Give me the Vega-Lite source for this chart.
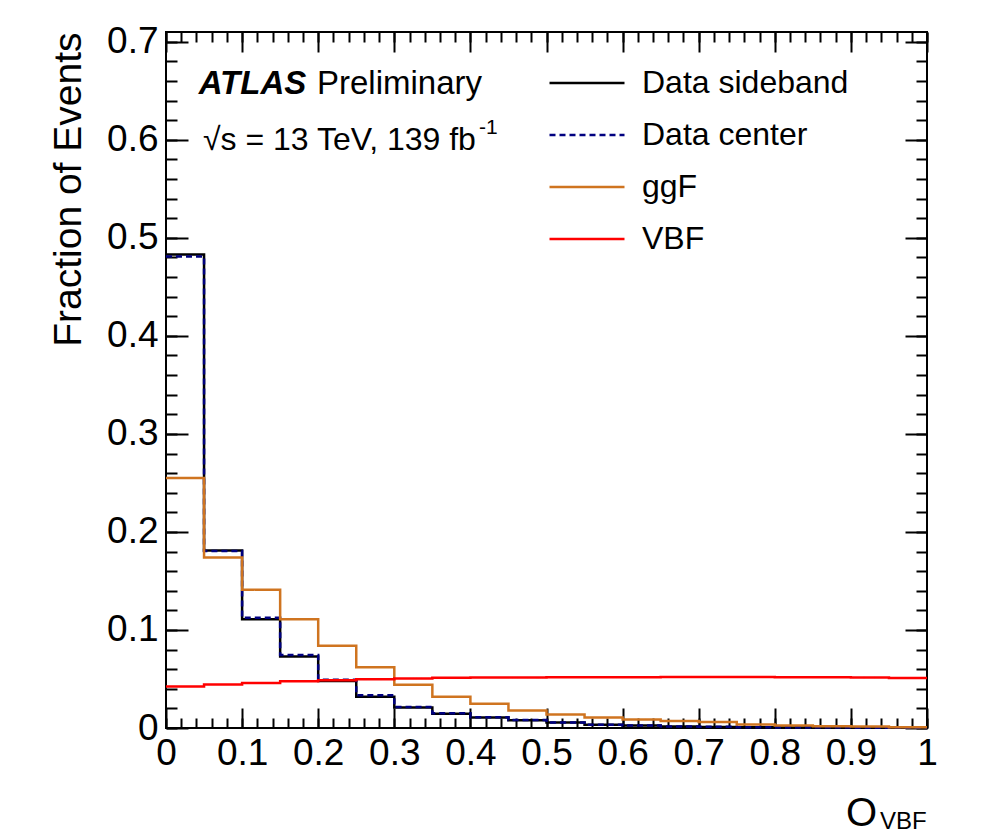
{
  "$schema": "https://vega.github.io/schema/vega-lite/v6.json",
  "width": 761,
  "height": 696,
  "autosize": {"type": "none"},
  "padding": {"left": 166, "top": 32, "right": 71, "bottom": 109},
  "background": "white",
  "config": {
    "view": {"stroke": "black", "strokeWidth": 2},
    "font": "Liberation Sans",
    "axis": {
      "grid": false, "domain": false, "tickColor": "black", "tickWidth": 2, "tickCap": "butt",
      "labelColor": "black", "labelFont": "Liberation Sans", "labelFontSize": 37,
      "titleFont": "Liberation Sans", "titleColor": "black", "titleFontWeight": "normal",
      "labelFlush": false, "labelOverlap": false, "labelBound": false, "zindex": 1
    }
  },
  "resolve": {"axis": {"x": "independent", "y": "independent"}},
  "datasets": {
    "hist": [
      {"sample": "Data sideband", "edge": 0, "frac": 0.483},
      {"sample": "Data sideband", "edge": 0.05, "frac": 0.181},
      {"sample": "Data sideband", "edge": 0.1, "frac": 0.111},
      {"sample": "Data sideband", "edge": 0.15, "frac": 0.073},
      {"sample": "Data sideband", "edge": 0.2, "frac": 0.048},
      {"sample": "Data sideband", "edge": 0.25, "frac": 0.032},
      {"sample": "Data sideband", "edge": 0.3, "frac": 0.021},
      {"sample": "Data sideband", "edge": 0.35, "frac": 0.0145},
      {"sample": "Data sideband", "edge": 0.4, "frac": 0.0107},
      {"sample": "Data sideband", "edge": 0.45, "frac": 0.008},
      {"sample": "Data sideband", "edge": 0.5, "frac": 0.0056},
      {"sample": "Data sideband", "edge": 0.55, "frac": 0.0033},
      {"sample": "Data sideband", "edge": 0.6, "frac": 0.0026},
      {"sample": "Data sideband", "edge": 0.65, "frac": 0.0015},
      {"sample": "Data sideband", "edge": 0.7, "frac": 0.0011},
      {"sample": "Data sideband", "edge": 0.75, "frac": 0.0008},
      {"sample": "Data sideband", "edge": 0.8, "frac": 0.0006},
      {"sample": "Data sideband", "edge": 0.85, "frac": 0.0004},
      {"sample": "Data sideband", "edge": 0.9, "frac": 0.0003},
      {"sample": "Data sideband", "edge": 0.95, "frac": 0.0002},
      {"sample": "Data sideband", "edge": 1, "frac": 0.0002},
      {"sample": "Data center", "edge": 0, "frac": 0.481},
      {"sample": "Data center", "edge": 0.05, "frac": 0.1805},
      {"sample": "Data center", "edge": 0.1, "frac": 0.1125},
      {"sample": "Data center", "edge": 0.15, "frac": 0.0745},
      {"sample": "Data center", "edge": 0.2, "frac": 0.0493},
      {"sample": "Data center", "edge": 0.25, "frac": 0.0335},
      {"sample": "Data center", "edge": 0.3, "frac": 0.0215},
      {"sample": "Data center", "edge": 0.35, "frac": 0.015},
      {"sample": "Data center", "edge": 0.4, "frac": 0.011},
      {"sample": "Data center", "edge": 0.45, "frac": 0.0082},
      {"sample": "Data center", "edge": 0.5, "frac": 0.0057},
      {"sample": "Data center", "edge": 0.55, "frac": 0.0034},
      {"sample": "Data center", "edge": 0.6, "frac": 0.0026},
      {"sample": "Data center", "edge": 0.65, "frac": 0.0016},
      {"sample": "Data center", "edge": 0.7, "frac": 0.0012},
      {"sample": "Data center", "edge": 0.75, "frac": 0.0008},
      {"sample": "Data center", "edge": 0.8, "frac": 0.0005},
      {"sample": "Data center", "edge": 0.85, "frac": 0.0004},
      {"sample": "Data center", "edge": 0.9, "frac": 0.0003},
      {"sample": "Data center", "edge": 0.95, "frac": 0.0002},
      {"sample": "Data center", "edge": 1, "frac": 0.0002},
      {"sample": "ggF", "edge": 0, "frac": 0.255},
      {"sample": "ggF", "edge": 0.05, "frac": 0.174},
      {"sample": "ggF", "edge": 0.1, "frac": 0.141},
      {"sample": "ggF", "edge": 0.15, "frac": 0.111},
      {"sample": "ggF", "edge": 0.2, "frac": 0.084},
      {"sample": "ggF", "edge": 0.25, "frac": 0.062},
      {"sample": "ggF", "edge": 0.3, "frac": 0.044},
      {"sample": "ggF", "edge": 0.35, "frac": 0.032},
      {"sample": "ggF", "edge": 0.4, "frac": 0.0247},
      {"sample": "ggF", "edge": 0.45, "frac": 0.0179},
      {"sample": "ggF", "edge": 0.5, "frac": 0.0138},
      {"sample": "ggF", "edge": 0.55, "frac": 0.0107},
      {"sample": "ggF", "edge": 0.6, "frac": 0.0087},
      {"sample": "ggF", "edge": 0.65, "frac": 0.0072},
      {"sample": "ggF", "edge": 0.7, "frac": 0.006},
      {"sample": "ggF", "edge": 0.75, "frac": 0.0036},
      {"sample": "ggF", "edge": 0.8, "frac": 0.0026},
      {"sample": "ggF", "edge": 0.85, "frac": 0.0019},
      {"sample": "ggF", "edge": 0.9, "frac": 0.0015},
      {"sample": "ggF", "edge": 0.95, "frac": 0.0008},
      {"sample": "ggF", "edge": 1, "frac": 0.0008},
      {"sample": "VBF", "edge": 0, "frac": 0.0423},
      {"sample": "VBF", "edge": 0.05, "frac": 0.0444},
      {"sample": "VBF", "edge": 0.1, "frac": 0.046},
      {"sample": "VBF", "edge": 0.15, "frac": 0.0478},
      {"sample": "VBF", "edge": 0.2, "frac": 0.0488},
      {"sample": "VBF", "edge": 0.25, "frac": 0.0498},
      {"sample": "VBF", "edge": 0.3, "frac": 0.0505},
      {"sample": "VBF", "edge": 0.35, "frac": 0.0512},
      {"sample": "VBF", "edge": 0.4, "frac": 0.0514},
      {"sample": "VBF", "edge": 0.45, "frac": 0.0516},
      {"sample": "VBF", "edge": 0.5, "frac": 0.0517},
      {"sample": "VBF", "edge": 0.55, "frac": 0.0518},
      {"sample": "VBF", "edge": 0.6, "frac": 0.0518},
      {"sample": "VBF", "edge": 0.65, "frac": 0.0519},
      {"sample": "VBF", "edge": 0.7, "frac": 0.0519},
      {"sample": "VBF", "edge": 0.75, "frac": 0.0519},
      {"sample": "VBF", "edge": 0.8, "frac": 0.0518},
      {"sample": "VBF", "edge": 0.85, "frac": 0.0517},
      {"sample": "VBF", "edge": 0.9, "frac": 0.0515},
      {"sample": "VBF", "edge": 0.95, "frac": 0.051},
      {"sample": "VBF", "edge": 1, "frac": 0.051}
    ]
  },
  "layer": [
    {
      "data": {"name": "hist"},
      "mark": {"type": "line", "interpolate": "step-after", "strokeWidth": 2.5},
      "encoding": {
        "x": {"field": "edge", "type": "quantitative", "scale": {"domain": [0, 1], "nice": false, "zero": false},
          "axis": {"orient": "bottom", "values": [0, 0.1, 0.2, 0.3, 0.4, 0.5, 0.6, 0.7, 0.8, 0.9, 1], "format": "~g", "ticks": false, "labels": true, "labelPadding": 7, "title": null}},
        "y": {"field": "frac", "type": "quantitative", "scale": {"domain": [0, 0.71], "nice": false, "zero": false},
          "axis": {"orient": "left", "values": [0, 0.1, 0.2, 0.3, 0.4, 0.5, 0.6, 0.7], "format": "~g", "ticks": false, "labels": true, "labelPadding": 8,
            "title": "Fraction of Events", "titleFontSize": 39, "titleAnchor": "end", "titlePadding": 18}},
        "color": {"field": "sample", "type": "nominal",
          "scale": {"domain": ["Data sideband", "Data center", "ggF", "VBF"], "range": ["#000000", "#000080", "#cf7420", "#ff0000"]},
          "legend": {"orient": "none", "legendX": 405, "legendY": 35, "title": null, "padding": 0,
            "symbolType": "M-7.5,0H7.5", "symbolSize": 100, "symbolStrokeWidth": 2.5, "symbolOpacity": 1,
            "labelFontSize": 32, "labelFont": "Liberation Sans", "labelColor": "black", "labelOffset": 39, "labelLimit": 0, "rowPadding": 20}},
        "strokeDash": {"field": "sample", "type": "nominal",
          "scale": {"domain": ["Data sideband", "Data center", "ggF", "VBF"], "range": [[1, 0], [6, 4], [1, 0], [1, 0]]},
          "legend": {"orient": "none", "legendX": 405, "legendY": 35, "title": null, "padding": 0,
            "symbolType": "M-7.5,0H7.5", "symbolSize": 100, "symbolStrokeWidth": 2.5, "symbolOpacity": 1,
            "labelFontSize": 32, "labelFont": "Liberation Sans", "labelColor": "black", "labelOffset": 39, "labelLimit": 0, "rowPadding": 20}}
      }
    },
    {
      "data": {"values": [{}]},
      "mark": {"type": "text", "text": "ATLAS", "align": "left", "baseline": "alphabetic", "fontSize": 33, "fontWeight": "bold", "fontStyle": "italic", "font": "Liberation Sans", "color": "black"},
      "encoding": {
        "x": {"datum": 0.043, "type": "quantitative", "scale": {"domain": [0, 1], "nice": false, "zero": false},
          "axis": {"orient": "bottom", "values": [0, 0.1, 0.2, 0.3, 0.4, 0.5, 0.6, 0.7, 0.8, 0.9, 1], "labels": false, "ticks": true, "tickSize": -20, "title": null}},
        "y": {"datum": 0.6467, "type": "quantitative", "scale": {"domain": [0, 0.71], "nice": false, "zero": false},
          "axis": {"orient": "left", "values": [0, 0.1, 0.2, 0.3, 0.4, 0.5, 0.6, 0.7], "labels": false, "ticks": true, "tickSize": -22, "title": null}}
      }
    },
    {
      "data": {"values": [{}]},
      "mark": {"type": "text", "text": "Preliminary", "align": "left", "baseline": "alphabetic", "fontSize": 33, "font": "Liberation Sans", "color": "black"},
      "encoding": {
        "x": {"datum": 0.1984, "type": "quantitative", "scale": {"domain": [0, 1], "nice": false, "zero": false},
          "axis": {"orient": "bottom", "values": [0, 0.02, 0.04, 0.06, 0.08, 0.1, 0.12, 0.14, 0.16, 0.18, 0.2, 0.22, 0.24, 0.26, 0.28, 0.3, 0.32, 0.34, 0.36, 0.38, 0.4, 0.42, 0.44, 0.46, 0.48, 0.5, 0.52, 0.54, 0.56, 0.58, 0.6, 0.62, 0.64, 0.66, 0.68, 0.7, 0.72, 0.74, 0.76, 0.78, 0.8, 0.82, 0.84, 0.86, 0.88, 0.9, 0.92, 0.94, 0.96, 0.98, 1], "labels": false, "ticks": true, "tickSize": -10, "title": null}},
        "y": {"datum": 0.6467, "type": "quantitative", "scale": {"domain": [0, 0.71], "nice": false, "zero": false},
          "axis": {"orient": "left", "values": [0, 0.02, 0.04, 0.06, 0.08, 0.1, 0.12, 0.14, 0.16, 0.18, 0.2, 0.22, 0.24, 0.26, 0.28, 0.3, 0.32, 0.34, 0.36, 0.38, 0.4, 0.42, 0.44, 0.46, 0.48, 0.5, 0.52, 0.54, 0.56, 0.58, 0.6, 0.62, 0.64, 0.66, 0.68, 0.7], "labels": false, "ticks": true, "tickSize": -11, "title": null}}
      }
    },
    {
      "data": {"values": [{}]},
      "mark": {"type": "text", "text": "√s = 13 TeV, 139 fb", "align": "left", "baseline": "alphabetic", "fontSize": 32, "font": "Liberation Sans", "color": "black"},
      "encoding": {
        "x": {"datum": 0.0486, "type": "quantitative", "scale": {"domain": [0, 1], "nice": false, "zero": false},
          "axis": {"orient": "top", "values": [0, 0.1, 0.2, 0.3, 0.4, 0.5, 0.6, 0.7, 0.8, 0.9, 1], "labels": false, "ticks": true, "tickSize": -20, "title": null}},
        "y": {"datum": 0.5896, "type": "quantitative", "scale": {"domain": [0, 0.71], "nice": false, "zero": false},
          "axis": {"orient": "right", "values": [0, 0.1, 0.2, 0.3, 0.4, 0.5, 0.6, 0.7], "labels": false, "ticks": true, "tickSize": -22, "title": null}}
      }
    },
    {
      "data": {"values": [{}]},
      "mark": {"type": "text", "text": "-1", "align": "left", "baseline": "alphabetic", "fontSize": 21, "font": "Liberation Sans", "color": "black"},
      "encoding": {
        "x": {"datum": 0.4113, "type": "quantitative", "scale": {"domain": [0, 1], "nice": false, "zero": false},
          "axis": {"orient": "top", "values": [0, 0.02, 0.04, 0.06, 0.08, 0.1, 0.12, 0.14, 0.16, 0.18, 0.2, 0.22, 0.24, 0.26, 0.28, 0.3, 0.32, 0.34, 0.36, 0.38, 0.4, 0.42, 0.44, 0.46, 0.48, 0.5, 0.52, 0.54, 0.56, 0.58, 0.6, 0.62, 0.64, 0.66, 0.68, 0.7, 0.72, 0.74, 0.76, 0.78, 0.8, 0.82, 0.84, 0.86, 0.88, 0.9, 0.92, 0.94, 0.96, 0.98, 1], "labels": false, "ticks": true, "tickSize": -10, "title": null}},
        "y": {"datum": 0.6059, "type": "quantitative", "scale": {"domain": [0, 0.71], "nice": false, "zero": false},
          "axis": {"orient": "right", "values": [0, 0.02, 0.04, 0.06, 0.08, 0.1, 0.12, 0.14, 0.16, 0.18, 0.2, 0.22, 0.24, 0.26, 0.28, 0.3, 0.32, 0.34, 0.36, 0.38, 0.4, 0.42, 0.44, 0.46, 0.48, 0.5, 0.52, 0.54, 0.56, 0.58, 0.6, 0.62, 0.64, 0.66, 0.68, 0.7], "labels": false, "ticks": true, "tickSize": -11, "title": null}}
      }
    },
    {
      "data": {"values": [{}]},
      "mark": {"type": "text", "text": "O", "align": "center", "baseline": "alphabetic", "fontSize": 40, "font": "Liberation Sans", "color": "black"},
      "encoding": {
        "x": {"datum": 0.9139, "type": "quantitative", "scale": {"domain": [0, 1], "nice": false, "zero": false}, "axis": null},
        "y": {"datum": -0.1, "type": "quantitative", "scale": {"domain": [0, 0.71], "nice": false, "zero": false}, "axis": null}
      }
    },
    {
      "data": {"values": [{}]},
      "mark": {"type": "text", "text": "VBF", "align": "left", "baseline": "alphabetic", "fontSize": 24, "font": "Liberation Sans", "color": "black"},
      "encoding": {
        "x": {"datum": 0.9383, "type": "quantitative", "scale": {"domain": [0, 1], "nice": false, "zero": false}, "axis": null},
        "y": {"datum": -0.1035, "type": "quantitative", "scale": {"domain": [0, 0.71], "nice": false, "zero": false}, "axis": null}
      }
    }
  ]
}
